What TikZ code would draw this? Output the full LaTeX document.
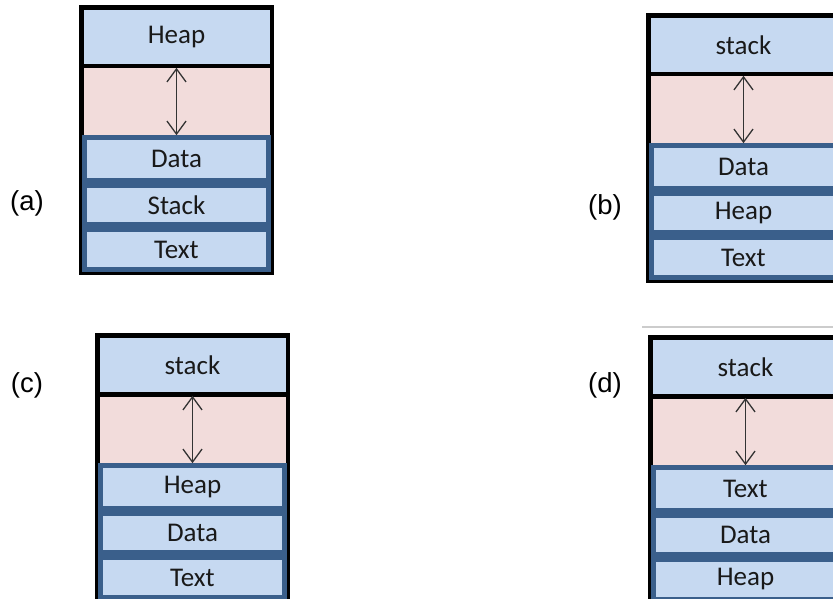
\documentclass[tikz,border=0pt]{standalone}
\usepackage{fontspec}
\setmainfont{Carlito}
\newfontfamily\tagfont{Liberation Sans}
\usepackage{xcolor}
\usetikzlibrary{arrows.meta}

\definecolor{segblue}{HTML}{C6D9F1}
\definecolor{segedge}{HTML}{3A5F8B}
\definecolor{gappink}{HTML}{F2DCDB}

\tikzset{
	segfont/.style={font=\fontsize{27}{31}\selectfont, text=black!90},
	topseg/.style={draw=black, fill=segblue, line width=4.5pt, minimum width=190.5pt, minimum height=58.5pt, inner sep=0pt, segfont},
	lowseg/.style={draw=segedge, fill=segblue, line width=5pt, minimum width=184pt, inner sep=0pt, segfont},
	gapseg/.style={minimum width=190pt, minimum height=67pt, inner sep=0pt},
	memframe/.style={draw=black, fill=gappink, line width=4.5pt},
	growth/.style={{Straight Barb[length=13pt,width=19pt]}-{Straight Barb[length=13pt,width=19pt]}, line width=1.3pt, draw=black!80},
	tag/.style={font=\tagfont\fontsize{27.5}{32}\selectfont}
}

\begin{document}
\begin{tikzpicture}[x=1pt, y=-1pt]
				\useasboundingbox (0, 0) rectangle (833, 599);
				
				%Layouts
				\foreach \n/\L/\T/\ta/\tb/\tc/\td in {a/79/5/Heap/Data/Stack/Text, b/646/13/stack/Data/Heap/Text, c/95/333/stack/Heap/Data/Text, d/648/335/stack/Text/Data/Heap} {
					\draw[memframe] (\L+2.25, \T+2.25) rectangle (\L+192.75, \T+268);
					
					%Top segment
					\node[topseg] (\n-top) at (\L+97.5, \T+32) {\ta};
					\node[gapseg] (\n-gap) at (\L+97.5, \T+96.5) {};
					
					%Lower segments
					\node[lowseg, minimum height=43pt] (\n-one) at (\L+97.5, \T+154) {\tb};
					\node[lowseg, minimum height=39pt] (\n-two) at (\L+97.5, \T+200) {\tc};
					\node[lowseg, minimum height=40pt] (\n-three) at (\L+97.5, \T+244.5) {\td};
					
					%Arrow
					\draw[growth] (\n-gap.north) -- (\n-gap.south);
				}
				
				%Tags
				\node[tag] (tag-a) at (27, 203) {(a)};
				\node[tag] (tag-b) at (605, 207) {(b)};
				\node[tag] (tag-c) at (27, 385) {(c)};
				\node[tag] (tag-d) at (605, 385) {(d)};
				
				%Rule
				\draw[black!20, line width=1.5pt] (642, 327) -- (833, 327);
			\end{tikzpicture}
\end{document}
